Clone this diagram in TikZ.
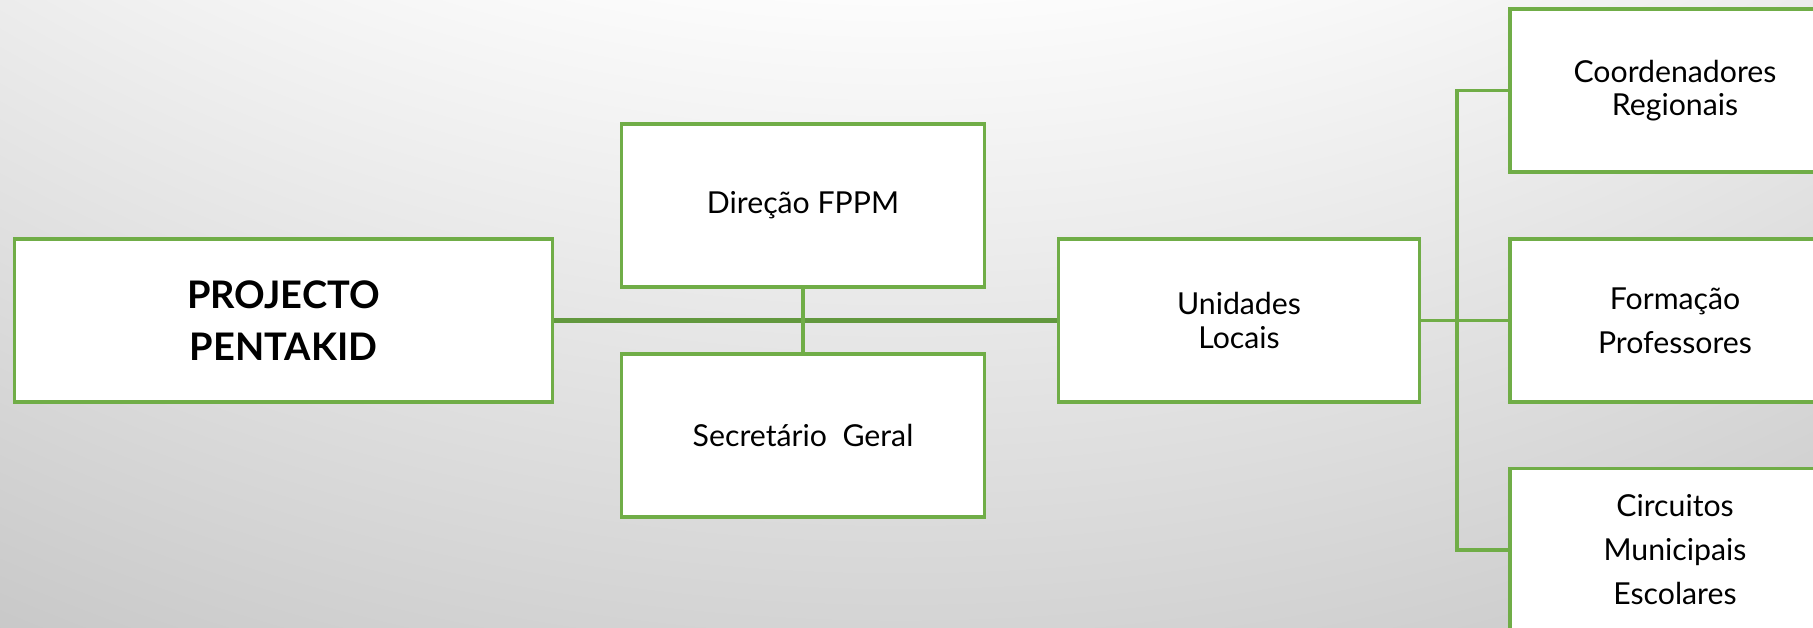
\documentclass[tikz,border=0pt]{standalone}
\usepackage{fontspec}
\setmainfont{Lato}
\definecolor{boxgreen}{RGB}{112,173,71}
\definecolor{linkgreen}{RGB}{98,152,62}
\definecolor{bggray}{RGB}{196,196,196}
\pgfdeclareradialshading{bgshade}{\pgfpoint{0bp}{0bp}}{%
  color(0bp)=(white); color(14.5bp)=(white); color(23.8bp)=(bggray); color(50bp)=(bggray)}
\tikzset{
  orgbox/.style={draw=boxgreen, fill=white, line width=0.9pt,
                 minimum height=1.63cm, align=center, inner sep=0pt},
  tighttxt/.style={font=\fontsize{8.6}{9.4}\selectfont},
  widetxt/.style={font=\fontsize{8.6}{12.5}\selectfont},
  titletxt/.style={font=\fontsize{10.8}{14.8}\selectfont\bfseries},
  link/.style={draw=boxgreen, line width=0.9pt}
}

\begin{document}
\begin{tikzpicture}[x=0.01cm, y=-0.01cm]
  % Background
  \useasboundingbox (0,0) rectangle (1813,628);
  \begin{scope}
    \clip (0,0) rectangle (1813,628);
    \shade[shading=bgshade] (900,-1500) circle (2500);
  \end{scope}
  % Boxes
  \node[orgbox, minimum width=5.37cm, titletxt] (pentakid) at (283.5,320.5) {PROJECTO\\PENTAKID};
  \node[orgbox, minimum width=3.62cm, tighttxt] (direcao) at (803,205.5) {Direção FPPM};
  \node[orgbox, minimum width=3.62cm, tighttxt] (secretario) at (803,435.5) {Secretário\ \ Geral};
  \node[orgbox, minimum width=3.6cm, tighttxt] (unidades) at (1239,320.5) {Unidades\\Locais};
  \node[orgbox, minimum width=3.3cm, tighttxt] (coord) at (1675,90.5) {Coordenadores\\Regionais};
  \node[orgbox, minimum width=3.3cm, widetxt] (formacao) at (1675,320.5) {Formação\\Professores};
  \node[orgbox, minimum width=3.3cm, widetxt] (circuitos) at (1675,550) {Circuitos\\Municipais\\Escolares};
  % Connectors
  \coordinate (bus) at (1457,320.5);
  \draw[link, draw=linkgreen, line width=1.2pt] (pentakid.east) -- (unidades.west);
  \draw[link] (direcao.south) -- (secretario.north);
  \draw[link] (unidades.east) -- (formacao.west);
  \draw[link] (coord.west) -| (bus) |- (circuitos.west);
\end{tikzpicture}
\end{document}
